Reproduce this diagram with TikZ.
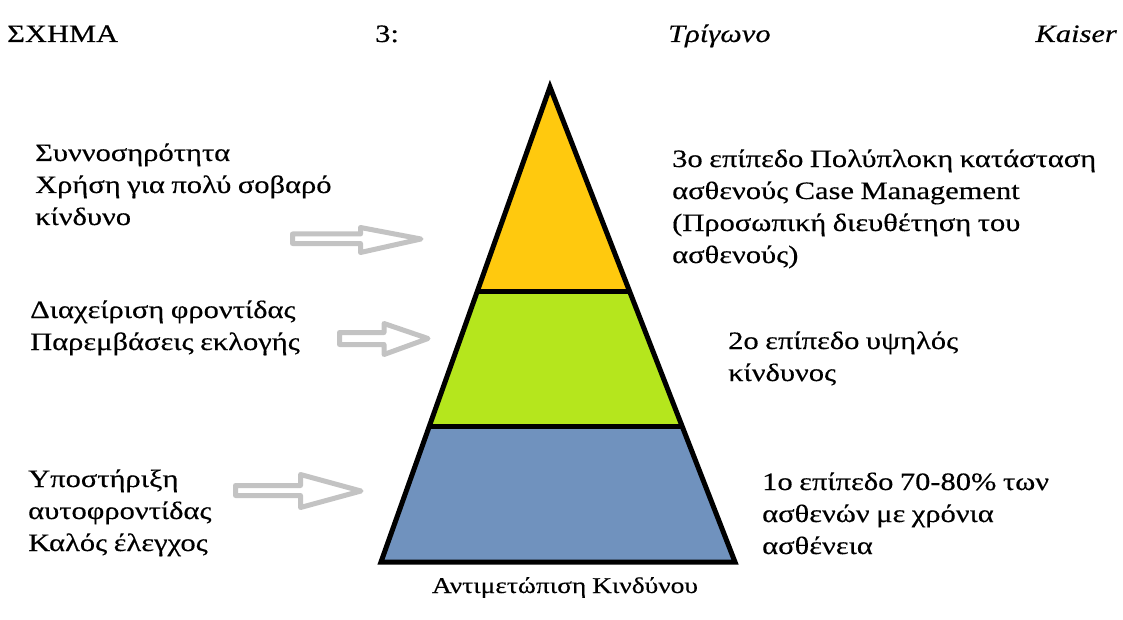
\documentclass[tikz,border=0pt]{standalone}
\usepackage{fontspec}
\setmainfont{Liberation Serif}[FakeStretch=1.22,FakeBold=0.4,WordSpace=0.85]
\usetikzlibrary{calc}
\definecolor{lvlgold}{HTML}{FFC90E}
\definecolor{lvlgreen}{HTML}{B5E61D}
\definecolor{lvlblue}{HTML}{7092BE}
\definecolor{arrowgray}{HTML}{C3C3C3}
\begin{document}
\begin{tikzpicture}[x=1pt,y=-1pt,
  lbl/.style={inner sep=0pt, anchor=base west, align=left, font=\fontsize{25}{32}\selectfont},
  ttl/.style={inner sep=0pt, anchor=base west, font=\fontsize{25}{32}\selectfont},
  level/.style={draw=black, line width=5pt},
  hollow/.style={draw=arrowgray, line width=5pt, fill=white, line join=round}]
\useasboundingbox (0,0) rectangle (1123,620);
% title
\node[ttl] (t1) at (7,42) {ΣΧΗΜΑ};
\node[ttl] (t2) at (375,42) {3:};
\node[ttl, font=\fontsize{25}{32}\selectfont\itshape] (t3) at (668,42) {Τρίγωνο};
\node[ttl, anchor=base east, font=\fontsize{25}{32}\selectfont\itshape] (t4) at (1117,42) {Kaiser};
% pyramid
\coordinate (A) at (550,87);
\coordinate (L) at (381,562);
\coordinate (R) at (735,562);
\coordinate (l1) at ($(A)!0.4295!(L)$);
\coordinate (r1) at ($(A)!0.4295!(R)$);
\coordinate (l2) at ($(A)!0.7137!(L)$);
\coordinate (r2) at ($(A)!0.7137!(R)$);
\fill[lvlgold] (A) -- (r1) -- (l1) -- cycle;
\fill[lvlgreen] (l1) -- (r1) -- (r2) -- (l2) -- cycle;
\fill[lvlblue] (l2) -- (r2) -- (R) -- (L) -- cycle;
\draw[level] (l1) -- (r1);
\draw[level] (l2) -- (r2);
\draw[level] (A) -- (R) -- (L) -- cycle;
% hollow arrows
\draw[hollow] (292.5,234) -- (360.5,234) -- (360.5,227.5) -- (421,239) -- (360.5,252.5) -- (360.5,243.5) -- (292.5,243.5) -- cycle;
\draw[hollow] (339.5,332.5) -- (384,332.5) -- (384,323.5) -- (428,338.5) -- (384,354.5) -- (384,344.5) -- (339.5,344.5) -- cycle;
\draw[hollow] (235.5,485.5) -- (300.5,485.5) -- (300.5,474.5) -- (361,491) -- (300.5,507.5) -- (300.5,495.5) -- (235.5,495.5) -- cycle;
% left labels (anchor = baseline of last line)
\node[lbl] (left3) at (35,225) {Συννοσηρότητα\\Χρήση για πολύ σοβαρό\\κίνδυνο};
\node[lbl] (left2) at (30,350) {Διαχείριση φροντίδας\\Παρεμβάσεις εκλογής};
\node[lbl] (left1) at (28,551) {Υποστήριξη\\αυτοφροντίδας\\Καλός έλεγχος};
% right labels
\node[lbl] (right3) at (672,263) {3ο επίπεδο Πολύπλοκη κατάσταση\\ασθενούς Case Management\\(Προσωπική διευθέτηση του\\ασθενούς)};
\node[lbl] (right2) at (728,381) {2ο επίπεδο υψηλός\\κίνδυνος};
\node[lbl] (right1) at (762,554) {1ο επίπεδο 70-80\% των\\ασθενών με χρόνια\\ασθένεια};
% bottom
\node[ttl, anchor=base, font=\fontsize{22.5}{30}\selectfont] (bottom) at (565,593) {Αντιμετώπιση Κινδύνου};
\end{tikzpicture}
\end{document}
